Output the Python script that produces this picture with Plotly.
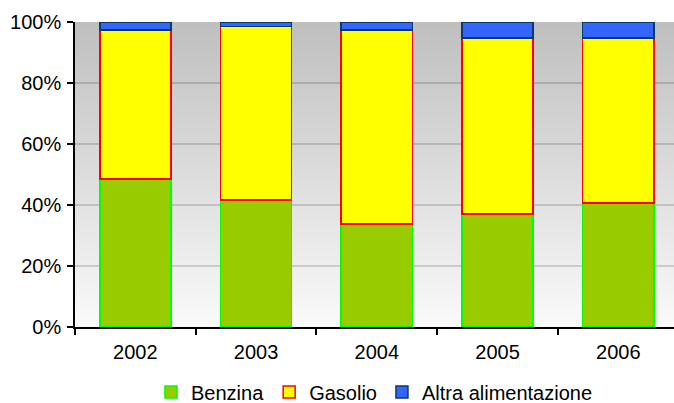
import plotly.graph_objects as go
import urllib.parse

years = ["2002", "2003", "2004", "2005", "2006"]
benzina = [48.5, 41.7, 33.8, 37.1, 40.7]
gasolio = [48.9, 56.9, 63.5, 57.7, 54.1]
altra = [2.6, 1.4, 2.7, 5.2, 5.2]
y_ticks = [0, 20, 40, 60, 80, 100]
y_labels = ["0%", "20%", "40%", "60%", "80%", "100%"]

font = dict(family="Liberation Sans, Arial, sans-serif", size=20, color="#000000")

fig = go.Figure()
fig.add_trace(go.Bar(name="Benzina", x=years, y=benzina,
                     marker=dict(color="#99CC00", line=dict(color="#00FF00", width=1.5))))
fig.add_trace(go.Bar(name="Gasolio", x=years, y=gasolio,
                     marker=dict(color="#FFFF00", line=dict(color="#FF0000", width=1.5))))
fig.add_trace(go.Bar(name="Altra alimentazione", x=years, y=altra,
                     marker=dict(color="#3366FF", line=dict(color="#0A3A6A", width=1.5))))

svg = ('<svg xmlns="http://www.w3.org/2000/svg" width="100" height="100" preserveAspectRatio="none">'
       '<defs><linearGradient id="g" x1="0" y1="0" x2="0" y2="1">'
       '<stop offset="0" stop-color="#bfbfbf"/><stop offset="1" stop-color="#fafafa"/>'
       '</linearGradient></defs><rect width="100" height="100" fill="url(#g)"/></svg>')
src = "data:image/svg+xml;charset=utf-8," + urllib.parse.quote(svg)

fig.update_layout(
    barmode="stack",
    bargap=0.41,
    width=674, height=403,
    margin=dict(l=75, r=0, t=22, b=76, autoexpand=False),
    paper_bgcolor="white",
    plot_bgcolor="rgba(0,0,0,0)",
    font=font,
    showlegend=True,
    legend=dict(orientation="h", x=0.5, xanchor="center", y=-0.213, yanchor="middle",
                font=font, traceorder="normal", itemwidth=30),
    images=[dict(source=src, xref="paper", yref="paper", x=0, y=1, sizex=1, sizey=1,
                 sizing="stretch", layer="below", xanchor="left", yanchor="top")],
    xaxis=dict(range=[-0.5, 4.461], showline=True, linecolor="#000000", linewidth=1.5,
               ticks="outside", tickson="boundaries", ticklen=6, tickcolor="#000000",
               tickwidth=1.5, showgrid=False, tickfont=font, fixedrange=True,
               automargin=False, ticklabelstandoff=6),
    yaxis=dict(range=[0, 100], tickvals=y_ticks, ticktext=y_labels,
               showline=True, linecolor="#000000", linewidth=1.5,
               ticks="outside", ticklen=6, tickcolor="#000000", tickwidth=1.5,
               showgrid=True, gridcolor="rgba(0,0,0,0.15)", gridwidth=1.5,
               zeroline=False, tickfont=font, fixedrange=True, automargin=False,
               ticklabelstandoff=2),
)

fig.write_html("out.html", config={"displayModeBar": False},
               post_script="document.body.style.margin='0px';document.body.style.padding='0px';document.body.style.overflow='hidden';")
